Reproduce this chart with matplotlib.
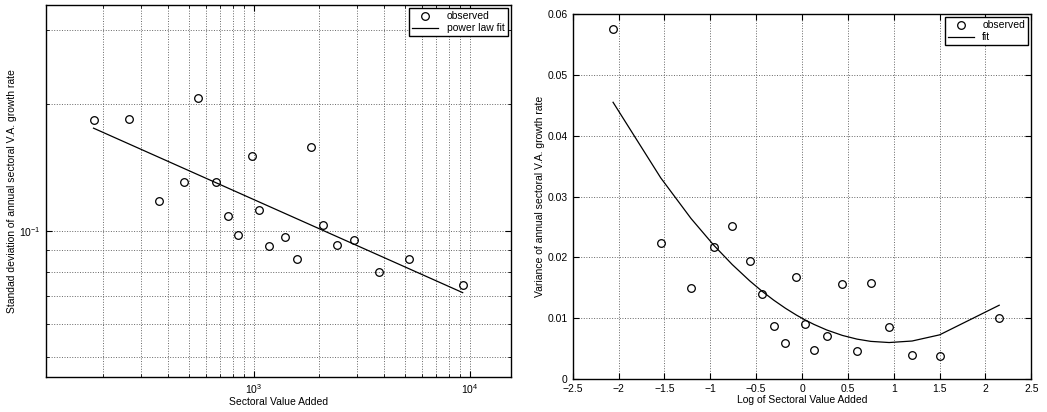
import numpy as np
import matplotlib
matplotlib.use('Agg')
import matplotlib.pyplot as plt

plt.rcParams['font.family'] = ['Liberation Sans', 'DejaVu Sans']
plt.rcParams['font.size'] = 7.5

# left panel: std dev vs sectoral value added (log-log)
va = [181, 264, 549, 364, 473, 667, 758, 846, 986, 1062, 1182, 1396, 1582,
      1831, 2093, 2422, 2914, 3791, 5240, 9275]
sd = [0.184, 0.185, 0.207, 0.118, 0.131, 0.131, 0.1087, 0.0978, 0.151, 0.112,
      0.0918, 0.0969, 0.0856, 0.158, 0.1035, 0.0928, 0.095, 0.080, 0.0856, 0.0745]
pl_coef = 0.1756 * 181 ** 0.229
pl_exp = -0.229

# right panel: variance vs log of value added
logva = [-2.06, -1.54, -1.21, -0.96, -0.76, -0.57, -0.44, -0.31, -0.18, -0.06,
         0.03, 0.13, 0.27, 0.44, 0.60, 0.75, 0.95, 1.20, 1.50, 2.15]
var = [0.0575, 0.0223, 0.0150, 0.0217, 0.0252, 0.0194, 0.0139, 0.0088, 0.0059,
       0.0168, 0.0091, 0.0047, 0.0070, 0.0156, 0.0046, 0.0158, 0.0086, 0.0039,
       0.0038, 0.0101]
q_a, q_x0, q_c = 0.00433, 0.96, 0.006

fig = plt.figure(figsize=(10.47, 4.12), dpi=100)

def style(ax):
    ax.tick_params(direction='in', which='both', top=True, right=True, length=4)
    ax.tick_params(which='minor', length=2)
    ax.grid(True, which='both', linestyle=':', color='0.4', linewidth=0.7)
    for s in ax.spines.values():
        s.set_linewidth(1.0)

ax1 = fig.add_axes([0.0439, 0.085, 0.444, 0.903])
ax1.set_xscale('log')
ax1.set_yscale('log')
ax1.plot(va, sd, 'o', mfc='none', mec='k', ms=5.5, mew=0.9, label='observed')
xf = np.array([min(va), max(va)])
ax1.plot(xf, pl_coef * xf ** pl_exp, 'k-', lw=0.9, label='power law fit')
ax1.set_xlim(109, 15500)
ax1.set_ylim(0.0449, 0.345)
style(ax1)
ax1.yaxis.set_minor_formatter(matplotlib.ticker.NullFormatter())
ax1.xaxis.set_minor_formatter(matplotlib.ticker.NullFormatter())
ax1.set_xlabel('Sectoral Value Added', labelpad=1)
ax1.set_ylabel('Standad deviation of annual sectoral V.A. growth rate', labelpad=2)
ax1.legend(loc='upper right', fancybox=False, edgecolor='k', framealpha=1,
           borderaxespad=0.3, handlelength=2.5, borderpad=0.3, labelspacing=0.2)

ax2 = fig.add_axes([0.547, 0.080, 0.438, 0.886])
ax2.plot(logva, var, 'o', mfc='none', mec='k', ms=5.5, mew=0.9, label='observed')
xs = np.sort(logva)
ax2.plot(xs, q_a * (xs - q_x0) ** 2 + q_c, 'k-', lw=0.9, label='fit')
ax2.set_xlim(-2.5, 2.5)
ax2.set_ylim(0, 0.06)
ax2.set_xticks(np.arange(-2.5, 2.51, 0.5))
ax2.set_xticklabels(['\u22122.5', '\u22122', '\u22121.5', '\u22121', '\u22120.5', '0',
                     '0.5', '1', '1.5', '2', '2.5'])
ax2.set_yticks(np.arange(0, 0.061, 0.01))
ax2.set_yticklabels(['0', '0.01', '0.02', '0.03', '0.04', '0.05', '0.06'])
style(ax2)
ax2.set_xlabel('Log of Sectoral Value Added', labelpad=1)
ax2.set_ylabel('Variance of annual sectoral V.A. growth rate', labelpad=2)
ax2.legend(loc='upper right', fancybox=False, edgecolor='k', framealpha=1,
           borderaxespad=0.3, handlelength=2.5, borderpad=0.3, labelspacing=0.2)

fig.savefig('out.png', dpi=100)
